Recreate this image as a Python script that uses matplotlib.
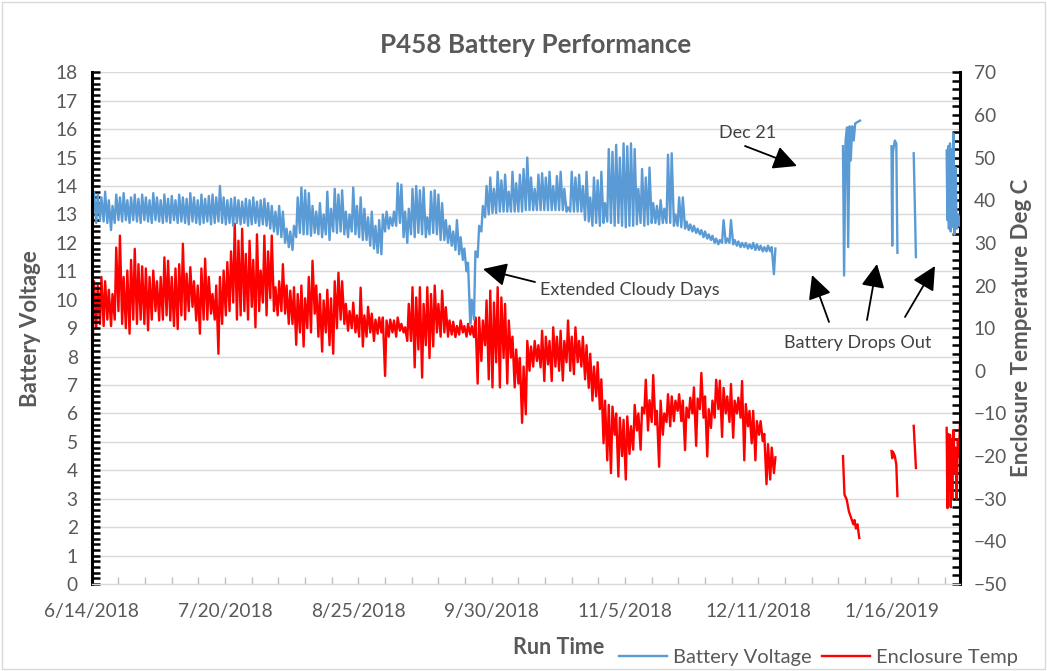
import numpy as np
import matplotlib
matplotlib.use("Agg")
import matplotlib.pyplot as plt
import matplotlib.dates as mdates
from matplotlib.ticker import MultipleLocator, FixedLocator, FuncFormatter
from matplotlib.transforms import blended_transform_factory
from matplotlib.patches import Rectangle

plt.rcParams['font.family'] = ['Lato', 'DejaVu Sans']

# ---------------- data ----------------
start_date = np.datetime64('2018-06-14')
tick_step_days = 36

# daily battery voltage (night low / afternoon high), day 0 = 6/14/2018
volt_low = [12.9, 12.7, 12.8, 12.75, 12.7, 12.45, 12.7, 12.8, 12.75, 12.8,
            12.7, 12.8, 12.75, 12.7, 12.8, 12.75, 12.7, 12.8, 12.75, 12.7,
            12.75, 12.7, 12.8, 12.7, 12.75, 12.7, 12.65, 12.75, 12.7, 12.65,
            12.7, 12.75, 12.65, 12.7, 12.75, 12.7, 12.65, 12.7, 12.6, 12.7,
            12.65, 12.7, 12.6, 12.65, 12.7, 12.6, 12.65, 12.6, 12.5, 12.4,
            12.3, 12.2, 12.0, 11.85, 11.75, 12.2, 12.35, 12.3, 12.3, 12.25,
            12.35, 12.3, 12.2, 12.3, 12.1, 12.4, 12.35, 12.4, 12.3, 12.2,
            12.4, 12.3, 12.2, 12.1, 12.1, 11.9, 11.8, 11.65, 11.6, 12.4,
            12.5, 12.6, 12.6, 12.7, 12.2, 12.0, 12.3, 12.2, 12.35, 12.3,
            12.2, 12.3, 12.35, 12.3, 12.1, 12.1, 12.0, 11.9, 11.75, 11.6,
            11.4, 11.0, 9.15, 9.3, 11.5, 12.4, 12.9, 13.0, 13.05, 13.05,
            13.1, 13.1, 13.1, 13.1, 13.1, 13.1, 13.1, 13.15, 13.15, 13.15,
            13.15, 13.15, 13.15, 13.15, 13.15, 13.15, 13.15, 13.15, 13.1, 13.1,
            13.1, 13.1, 13.1, 12.8, 12.75, 12.6, 12.7, 12.6, 12.7, 12.75,
            12.7, 12.6, 12.7, 12.6, 12.55, 12.6, 12.6, 12.65, 12.7, 12.6,
            12.65, 12.7, 12.7, 12.65, 12.7, 12.7, 12.7, 12.6, 12.6, 12.55,
            12.5, 12.45, 12.4, 12.35, 12.3, 12.2, 12.15, 12.1, 12.0, 11.95,
            12.0, 12.0, 12.0, 11.95, 11.9, 11.85, 11.85, 11.8, 11.8, 11.75,
            11.75, 11.7, 11.7, 11.7, 10.9]
volt_high = [13.8, 13.7, 13.6, 13.8, 13.5, 13.3, 13.7, 13.6, 13.75, 13.5,
             13.6, 13.7, 13.55, 13.7, 13.6, 13.5, 13.75, 13.6, 13.5, 13.7,
             13.55, 13.65, 13.5, 13.7, 13.6, 13.55, 13.75, 13.6, 13.5, 13.7,
             13.55, 13.65, 13.7, 13.6, 14.0, 13.6, 13.5, 13.55, 13.6, 13.5,
             13.45, 13.55, 13.5, 13.6, 13.45, 13.5, 13.55, 13.4, 13.3, 13.1,
             13.3, 13.1, 12.5, 12.4, 12.6, 13.6, 13.95, 13.85, 13.75, 13.3,
             13.1, 13.4, 13.0, 13.8, 13.2, 13.9, 13.7, 13.85, 13.1, 13.0,
             13.95, 13.3, 13.6, 13.2, 12.9, 13.1, 12.6, 12.8, 13.0, 13.1,
             12.9, 13.1, 14.1, 14.05, 13.1, 13.2, 13.9, 14.0, 13.85, 13.95,
             12.9, 13.8, 13.85, 13.7, 13.4, 12.8, 12.6, 12.4, 12.8, 12.2,
             11.8, 11.3, 10.0, 11.7, 12.6, 13.3, 14.0, 14.3, 13.9, 14.5,
             14.2, 14.4, 13.8, 14.5, 14.1, 14.4, 14.6, 15.0, 14.3, 13.9,
             14.4, 14.45, 14.3, 14.5, 14.0, 14.35, 14.5, 13.9, 13.25, 14.5,
             14.3, 14.4, 14.0, 14.5, 13.6, 14.3, 14.2, 14.5, 13.4, 15.3,
             15.2, 15.45, 15.0, 15.5, 15.4, 15.5, 15.3, 13.9, 14.6, 14.3,
             14.65, 13.4, 13.3, 13.5, 13.2, 15.1, 15.15, 13.0, 13.6, 13.6,
             12.75, 12.65, 12.6, 12.5, 12.45, 12.4, 12.3, 12.25, 12.15, 12.1,
             12.8, 12.15, 12.8, 12.1, 12.05, 12.0, 12.0, 11.95, 12.0, 11.95,
             11.9, 11.85, 11.9, 11.85, 11.8]

# daily enclosure temperature (deg C)
temp_low = [3, 10, 11, 10.5, 12, 10.5, 12, 14, 11, 10,
            8.7, 12, 11, 12, 11, 9.5, 12, 14, 11.8, 12,
            13, 11.8, 10.5, 9.8, 13, 12, 14, 15, 11.8, 8.7,
            12, 12, 13.4, 12, 4, 11, 13, 14, 16, 12,
            13, 14, 12, 15, 10.2, 14, 16, 13, 17, 14,
            13, 14, 13.4, 11, 11, 6.1, 9, 5.7, 10, 9,
            13.4, 8, 4.5, 9, 6, 4, 10, 12, 11, 9.4,
            10, 9, 8, 5.7, 8, 9, 7, 8.7, 9, -1.2,
            8, 9, 8, 9.4, 9, 7, 7, 0.8, 5, -1.6,
            6, 3, 5.7, 9, 8, 9, 8, 8.5, 7.9, 8.5,
            9, 8, 8.5, 7.9, -3, 2.3, 6, -2, -3.9, 2,
            -3.9, 3, -3, 3.1, -3.9, -3, -12.2, -10.2, 0, 1,
            2.3, 0.8, -2.4, 1.5, -2.4, 1, 0, -2.3, 2, 0,
            -0.8, 2, 1, -2, -4, -7, -6, -9, -17, -21,
            -24, -15, -24.8, -20, -25.5, -19.5, -18.5, -14, -18.5, -10,
            -14, -12, -12.6, -22.5, -15, -12, -13, -11.8, -9.4, -11.8,
            -18.6, -11, -10, -17.6, -9, -11, -20.1, -13.4, -11, -9,
            -15.5, -10, -12, -15.7, -10, -11, -21, -13, -17, -21,
            -15, -16.5, -26.6, -25.5, -24]
temp_high = [21, 20, 22, 21, 19, 18, 28.9, 31.7, 22, 23.5,
             26, 28.6, 25, 24.5, 24, 22, 23.5, 21, 22, 26.6,
             25.8, 22, 24, 25, 29.8, 22.8, 24.3, 21, 20, 24,
             26.3, 22, 18, 20, 22, 23.5, 25.5, 28, 34.5, 30.5,
             33.3, 27.4, 30.5, 26, 32, 23.5, 31.7, 28, 31.7, 19.6,
             21, 25, 20, 18.8, 19.6, 18, 20, 17, 22, 25.8,
             20, 18, 16.5, 19, 17, 21, 23, 21, 15.7, 14,
             16, 13, 19.5, 13, 15, 13.4, 12, 12.5, 12.5, 11.8,
             12, 11.8, 12.5, 11, 10.2, 15.7, 19.6, 17.2, 19.6, 15.7,
             19.6, 18, 20, 15.7, 18.8, 14.9, 11.8, 11.5, 10.5, 11.8,
             10.5, 11, 10.5, 12.5, 12.5, 11.8, 16.5, 18.8, 16, 19.6,
             17.2, 15.7, 11.8, 8, 5, 3, 1, 7, 5.7, 7,
             6, 9.4, 8, 7, 10.2, 8, 9.4, 7, 11.8, 8,
             10.2, 7, 8, 6, 4, 1, 2, -2, -7, -8,
             -8.4, -10, -11, -11.5, -10.7, -13, -8, -10, -8.6, -2.1,
             -6.9, -1.0, -9.4, -7, -10, -5.5, -6, -7, -5.5, -7,
             -8.6, -6.3, -3.9, -6.5, -0.5, -6, -9, -7, -2.1, -2.3,
             -4, -6, -3.1, -7, -6.3, -2.4, -7.8, -9.4, -9.4, -11.8,
             -11.8, -14.8, -17.2, -18, -20.3]

# sparse readings after the battery dropped out (day offsets, NaN = gap)
nan = np.nan
late_volt_days = [202.9, 203.2, 203.6, 204.0, 204.3, 204.7, 205.0, 205.4, 205.8, 206.2, 206.8, 207.5, nan,
                  216.0, 216.2, 216.4, 216.9, 217.3, 217.6, nan,
                  222.0, 222.6, nan,
                  230.9, 231.1, 231.3, 231.5, 231.8, 232.0, 232.2, 232.4, 232.7, 233.0, 233.3, 233.6, 234.0, 234.3, 234.5]
late_volt = [15.4, 10.85, 15.6, 16.06, 11.85, 16.1, 14.9, 16.1, 15.6, 16.2, 16.25, 16.3, nan,
             15.4, 11.9, 15.2, 15.6, 15.5, 11.65, nan,
             15.15, 11.5, nan,
             15.25, 12.8, 15.4, 12.5, 15.5, 12.4, 15.3, 12.6, 15.85, 12.3, 14.65, 12.5, 13.0, 12.6, 12.9]
late_temp_days = [202.9, 203.3, 203.9, 204.5, 205.3, 205.7, 206.0, 206.4, 206.8, 207.3, nan,
                  216.0, 216.2, 216.4, 216.9, 217.3, 217.6, nan,
                  222.0, 222.6, nan,
                  230.9, 231.1, 231.3, 231.5, 231.8, 232.0, 232.2, 232.4, 232.7, 233.0, 233.3, 233.6, 233.9, 234.2, 234.5]
late_temp = [-20, -29, -30.2, -33, -35, -36, -35, -37, -36, -39.2, nan,
             -18.8, -20.5, -19, -20, -22, -29.4, nan,
             -12.9, -22.8, nan,
             -13.4, -32.2, -14.8, -28, -15, -32, -16, -30, -14, -24, -18, -30, -16, -20, -12.4]

# ---------------- build series ----------------
x0 = mdates.date2num(start_date)


def to_x(days):
    return x0 + np.asarray(days, dtype=float)


n = len(volt_low)
day_idx = np.arange(n)
t_main = np.column_stack([day_idx + 0.25, day_idx + 0.65]).ravel()
v_main = np.column_stack([volt_low, volt_high]).ravel()
tt_main = np.column_stack([temp_low, temp_high]).ravel()

t_volt = np.concatenate([t_main, [nan], late_volt_days])
v_all = np.concatenate([v_main, [nan], late_volt])
t_temp = np.concatenate([t_main, [nan], late_temp_days])
tt_all = np.concatenate([tt_main, [nan], late_temp])

# ---------------- figure ----------------
W, H = 1047, 671
fig = plt.figure(figsize=(W / 100, H / 100), dpi=100)
L, R, T, B = 91.6, 960, 72.3, 584
ax = fig.add_axes([L / W, 1 - B / H, (R - L) / W, (B - T) / H])
ax2 = ax.twinx()
ax.set_zorder(ax2.get_zorder() + 1)
ax.patch.set_visible(False)

GRAY = '#595959'
BLUE = '#5B9BD5'
RED = '#FF0000'

line_v, = ax.plot(to_x(t_volt), v_all, color=BLUE, lw=1.7, solid_joinstyle='round')
line_t, = ax2.plot(to_x(t_temp), tt_all, color=RED, lw=1.7, solid_joinstyle='round')

ax.set_xlim(to_x(0), to_x(234.5))
ax.set_ylim(0, 18)
ax2.set_ylim(-50, 70)

# gridlines (drawn in the lower axes so they stay behind both series)
gtrans = blended_transform_factory(ax2.transAxes, ax.transData)
for gv in range(1, 19):
    ax2.plot([0, 1], [gv, gv], transform=gtrans, color='#D9D9D9', lw=1.0, zorder=0.5)

# spines
for s in ['top', 'right']:
    ax.spines[s].set_visible(False)
ax.spines['left'].set_color('black')
ax.spines['left'].set_linewidth(2.2)
ax.spines['bottom'].set_color('#D9D9D9')
ax.spines['bottom'].set_linewidth(1.0)
for s in ['top', 'left', 'bottom']:
    ax2.spines[s].set_visible(False)
ax2.spines['right'].set_color('black')
ax2.spines['right'].set_linewidth(2.2)

# ticks
ax.yaxis.set_major_locator(MultipleLocator(1))
ax.yaxis.set_minor_locator(MultipleLocator(0.2))
ax.tick_params(axis='y', which='both', direction='in', length=6, width=1.8, color='black',
               labelsize=13.8, labelcolor=GRAY, pad=10)
ax2.yaxis.set_major_locator(MultipleLocator(10))
ax2.yaxis.set_minor_locator(MultipleLocator(2))
ax2.tick_params(axis='y', which='both', direction='in', length=6, width=1.8, color='black',
                labelsize=13.8, labelcolor=GRAY, pad=10)

ax.xaxis.set_major_locator(FixedLocator(to_x(np.arange(0, 235, tick_step_days))))
ax.xaxis.set_minor_locator(FixedLocator(to_x(np.arange(0, 234.5, tick_step_days / 5))))


def date_fmt(x, pos=None):
    d = mdates.num2date(x)
    return f"{d.month}/{d.day}/{d.year}"


ax.xaxis.set_major_formatter(FuncFormatter(date_fmt))
ax.tick_params(axis='x', which='both', direction='in', length=5, width=1, color='#BFBFBF',
               labelsize=13.8, labelcolor=GRAY, pad=14)

# axis titles
ax.set_ylabel('Battery Voltage', fontsize=16, fontweight='bold', color=GRAY)
ax.yaxis.set_label_coords((41 - L) / (R - L), 0.5)
ax2.set_ylabel('Enclosure Temperature Deg C', fontsize=16, fontweight='bold', color=GRAY, rotation=90)
ax2.yaxis.set_label_coords((1011 - L) / (R - L), 0.5)

fig.text(536 / W, 1 - 45 / H, 'P458 Battery Performance', ha='center', va='center',
         fontsize=18.7, fontweight='bold', color=GRAY)
fig.text(559 / W, 1 - 647 / H, 'Run Time', ha='center', va='center',
         fontsize=15.5, fontweight='bold', color=GRAY)

fig.legend(handles=[line_v, line_t], labels=['Battery Voltage', 'Enclosure Temp'],
           loc='center left', bbox_to_anchor=(619 / W, 1 - 657 / H), ncol=2, frameon=False,
           fontsize=14.5, handlelength=2.4, handletextpad=0.3, columnspacing=0.5,
           labelcolor=GRAY, borderaxespad=0, borderpad=0)

# annotations (pixel layout -> data coords)


def pxd(px, py):
    return to_x((px - L) / ((R - L) / 234.5)), (B - py) / ((B - T) / 18)


TXT = '#404040'
arrow_kw = dict(arrowstyle='-|>,head_length=0.9,head_width=0.45', color='black', lw=1.3,
                shrinkA=0, shrinkB=0, mutation_scale=16)

ax.text(*pxd(748, 133), 'Dec 21', ha='center', va='center', fontsize=13, color=TXT)
ax.annotate('', xy=pxd(797, 166), xytext=pxd(745, 146), arrowprops=arrow_kw)

ax.text(*pxd(540, 290), 'Extended Cloudy Days', ha='left', va='center', fontsize=13, color=TXT)
ax.annotate('', xy=pxd(483, 269), xytext=pxd(535, 282), arrowprops=arrow_kw)

ax.text(*pxd(858, 343), 'Battery Drops Out', ha='center', va='center', fontsize=13, color=TXT)
ax.annotate('', xy=pxd(812, 275), xytext=pxd(829, 322), arrowprops=arrow_kw)
ax.annotate('', xy=pxd(877, 264), xytext=pxd(867, 320), arrowprops=arrow_kw)
ax.annotate('', xy=pxd(935, 266), xytext=pxd(905, 317), arrowprops=arrow_kw)

fig.add_artist(Rectangle((2 / W, 2 / H), (W - 4) / W, (H - 4) / H, transform=fig.transFigure,
                         fill=False, ec='#D9D9D9', lw=1))

fig.savefig('out.png', dpi=100)
